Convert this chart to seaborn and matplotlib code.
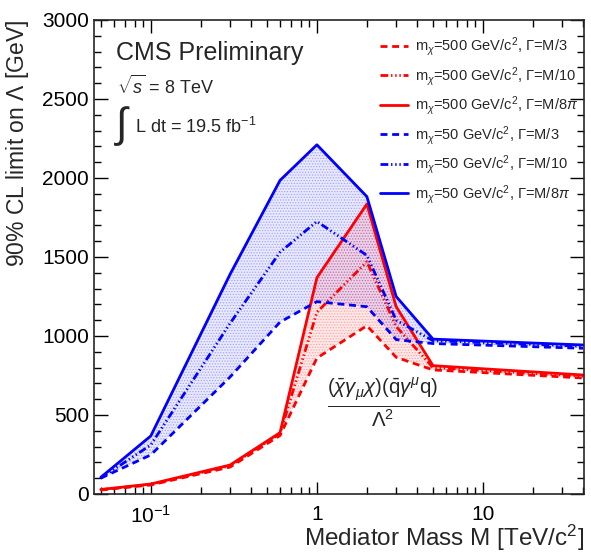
import numpy as np
import pandas as pd
import seaborn as sns
import matplotlib
matplotlib.use("Agg")
import matplotlib.pyplot as plt
from matplotlib.ticker import FixedLocator, LogLocator, MultipleLocator, NullFormatter

# mediator mass points [TeV]
mass = [0.05, 0.1, 0.3, 0.6, 1, 2, 3, 5, 40]

# 90% CL limits on Lambda [GeV]
m50_w8pi = [105, 367, 1390, 1985, 2210, 1882, 1250, 980, 943]
m50_w10 = [100, 310, 1080, 1530, 1725, 1510, 1100, 970, 935]
m50_w3 = [100, 247, 740, 1088, 1217, 1185, 977, 952, 922]
m500_w8pi = [28, 63, 183, 388, 1369, 1835, 1186, 812, 753]
m500_w10 = [27, 60, 178, 382, 1150, 1470, 1060, 800, 745]
m500_w3 = [25, 57, 170, 370, 860, 1065, 865, 785, 734]

labels = [
    r"m$_{\chi}$=500 GeV/c$^{2}$, $\Gamma$=M/3",
    r"m$_{\chi}$=500 GeV/c$^{2}$, $\Gamma$=M/10",
    r"m$_{\chi}$=500 GeV/c$^{2}$, $\Gamma$=M/8$\pi$",
    r"m$_{\chi}$=50 GeV/c$^{2}$, $\Gamma$=M/3",
    r"m$_{\chi}$=50 GeV/c$^{2}$, $\Gamma$=M/10",
    r"m$_{\chi}$=50 GeV/c$^{2}$, $\Gamma$=M/8$\pi$",
]

sns.set_style("ticks")
plt.rcParams["font.family"] = ["Liberation Sans", "DejaVu Sans"]
plt.rcParams["mathtext.fontset"] = "custom"
plt.rcParams["mathtext.rm"] = "Liberation Sans"
plt.rcParams["mathtext.it"] = "Liberation Sans:italic"
plt.rcParams["mathtext.bf"] = "Liberation Sans:bold"
plt.rcParams["hatch.linewidth"] = 0.6

fig = plt.figure(figsize=(5.91, 5.55), dpi=100)
ax = fig.add_axes([0.159, 0.110, 0.829, 0.854])

# shaded bands between widest and narrowest width
ax.fill_between(mass, m50_w3, m50_w8pi, facecolor=(0, 0, 1, 0.09),
                edgecolor=(0.3, 0.3, 1, 0.4), hatch="......", linewidth=0)
ax.fill_between(mass, m500_w3, m500_w8pi, facecolor=(1, 0, 0, 0.09),
                edgecolor=(1, 0.3, 0.3, 0.4), hatch="......", linewidth=0)

dash = (0, (2.5, 1.7))
dash3dot = (0, (2.8, 1.0, 0.5, 1.0, 0.5, 1.0, 0.5, 1.0))

series = [
    (m500_w3, "red", dash),
    (m500_w10, "red", dash3dot),
    (m500_w8pi, "red", "-"),
    (m50_w3, "blue", dash),
    (m50_w10, "blue", dash3dot),
    (m50_w8pi, "blue", "-"),
]
for (vals, col, ls), lab in zip(series, labels):
    df = pd.DataFrame({"mass": mass, "limit": vals})
    sns.lineplot(data=df, x="mass", y="limit", ax=ax, color=col,
                 linestyle=ls, linewidth=2, label=lab)

ax.set_xscale("log")
ax.set_xlim(0.0455, 40.5)
ax.set_ylim(0, 3000)

ax.xaxis.set_major_locator(FixedLocator([0.1, 1, 10]))
ax.set_xticklabels([r"10$^{-1}$", "1", "10"])
ax.xaxis.set_minor_locator(LogLocator(base=10, subs=np.arange(2, 10)))
ax.xaxis.set_minor_formatter(NullFormatter())
ax.yaxis.set_major_locator(MultipleLocator(500))
ax.yaxis.set_minor_locator(MultipleLocator(100))

ax.tick_params(axis="both", which="both", direction="in", top=True, right=True,
               labelsize=15, colors="black")
ax.tick_params(axis="y", which="major", length=10, width=1)
ax.tick_params(axis="y", which="minor", length=5, width=1)
ax.tick_params(axis="x", which="major", length=9, width=1, pad=8)
ax.tick_params(axis="x", which="minor", length=5, width=1)
for sp in ax.spines.values():
    sp.set_linewidth(1.2)

ax.set_xlabel(r"Mediator Mass M [TeV/c$^{2}$]", fontsize=17.5, ha="right")
ax.xaxis.set_label_coords(1.0, -0.06)
ax.set_ylabel(r"90% CL limit on $\Lambda$ [GeV]", fontsize=16.5, ha="right")
ax.yaxis.set_label_coords(-0.128, 1.0)

ax.text(0.045, 0.955, "CMS Preliminary", transform=ax.transAxes,
        fontsize=18, va="top")
ax.text(0.048, 0.885, r"$\sqrt{s}$ = 8 TeV", transform=ax.transAxes,
        fontsize=13, va="top")
ax.text(0.040, 0.822, r"$\int$", transform=ax.transAxes, fontsize=30,
        va="top", family="DejaVu Serif")
ax.text(0.083, 0.795, r"L dt = 19.5 fb$^{-1}$", transform=ax.transAxes,
        fontsize=13, va="top")

ax.text(0.59, 0.19,
        r"$\frac{(\bar{\chi}\gamma_{\mu}\chi)(\bar{\mathrm{q}}\gamma^{\mu}\mathrm{q})}{\Lambda^{2}}$",
        transform=ax.transAxes, fontsize=21, ha="center", va="center")

ax.legend(loc="upper right", bbox_to_anchor=(1.015, 0.995), frameon=False,
          fontsize=10.5, handlelength=1.9, labelspacing=0.45,
          handletextpad=0.5)

fig.savefig("out.png", dpi=100)
